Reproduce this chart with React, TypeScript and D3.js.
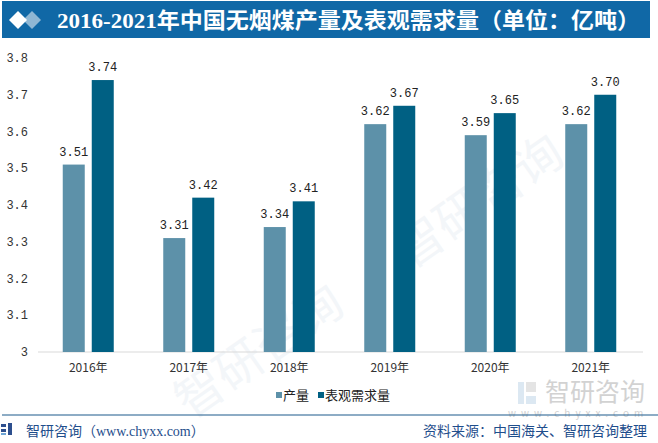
import React from "react";
import * as d3 from "d3";

const categories = ["2016年", "2017年", "2018年", "2019年", "2020年", "2021年"];
const production = [3.51, 3.31, 3.34, 3.62, 3.59, 3.62];
const demand = [3.74, 3.42, 3.41, 3.67, 3.65, 3.7];
const yTicks = [3, 3.1, 3.2, 3.3, 3.4, 3.5, 3.6, 3.7, 3.8];
const seriesNames = ["产量", "表观需求量"];
const colors = ["#5d91a9", "#006083"];

const W = 658;
const H = 443;

export default function App() {
  const x = d3.scaleBand<string>().domain(categories).range([38, 641]);
  const y = d3.scaleLinear().domain([3, 3.8]).range([352, 58]);
  const barW = 22;
  const gap = 7;
  const series = [production, demand];
  const fmtTick = (v: number) => (v === 3 ? "3" : v.toFixed(1));

  return (
    <svg width={W} height={H} style={{ position: "absolute", left: 0, top: 0, background: "#fff" }}>
      <rect x={0} y={0} width={W} height={H} fill="#fff" />
      {/* watermarks */}
      <g fill="#f3f6f9" fontFamily="Noto Sans CJK SC" fontSize={48}>
        <text transform="translate(190,420) rotate(-35)">智研咨询</text>
        <text transform="translate(410,270) rotate(-35)">智研咨询</text>
      </g>
      <g fontFamily="Noto Sans CJK SC">
        <rect x={518} y={382} width={6} height={22} fill="#dce8f2" />
        <rect x={526} y={382} width={10} height={10} fill="#e4e4e4" />
        <rect x={526} y={396} width={10} height={8} fill="#dce8f2" />
        <text x={545} y={401} fontSize={25} fill="#d2d2d2">智研咨询</text>
        <text x={508} y={417} fontSize={10} letterSpacing={5} fill="#d2d2d2">www.chyxx.com</text>
      </g>
      {/* title bar */}
      <rect x={2} y={1} width={648} height={37} fill="#1068a6" />
      <path d="M32,11 L41,20 L32,29 L23,20 Z" fill="#8fb7d4" />
      <path d="M18,11 L27,20 L18,29 L9,20 Z" fill="#ffffff" />
      <text
        x={57}
        y={28}
        fill="#fff"
        fontSize={22}
        fontWeight="bold"
        fontFamily="'Liberation Serif', 'Noto Sans CJK SC', serif"
        textLength={583}
        lengthAdjust="spacingAndGlyphs"
      >
        2016-2021年中国无烟煤产量及表观需求量（单位：亿吨）
      </text>
      {/* y tick labels */}
      {yTicks.map((t) => (
        <text
          key={t}
          x={28}
          y={y(t)}
          dy="0.35em"
          textAnchor="end"
          fontSize={12}
          fontFamily="'Liberation Mono', monospace"
          fill="#333"
        >
          {fmtTick(t)}
        </text>
      ))}
      {/* axis line */}
      <line x1={38} x2={643} y1={352} y2={352} stroke="#d9d9d9" strokeWidth={1} />
      {/* bars */}
      {categories.map((c, i) => {
        const cx = (x(c) as number) + x.bandwidth() / 2;
        return (
          <g key={c}>
            {series.map((s, j) => {
              const bx = j === 0 ? cx - gap / 2 - barW : cx + gap / 2;
              const top = y(s[i]);
              return (
                <g key={j}>
                  <rect x={bx} y={top} width={barW} height={352 - top} fill={colors[j]} />
                  <text
                    x={bx + barW / 2}
                    y={top - 9}
                    textAnchor="middle"
                    fontSize={12}
                    fontFamily="'Liberation Mono', monospace"
                    fill="#222"
                  >
                    {s[i].toFixed(2)}
                  </text>
                </g>
              );
            })}
            <text
              x={cx}
              y={368}
              dy="0.35em"
              textAnchor="middle"
              fontSize={12}
              fontFamily="'Noto Sans CJK SC', sans-serif"
              fill="#333"
            >
              {c}
            </text>
          </g>
        );
      })}
      {/* legend */}
      <g fontFamily="'Noto Sans CJK SC', sans-serif" fontSize={13} fill="#222">
        <rect x={276} y={392} width={6} height={6} fill={colors[0]} />
        <text x={283} y={395} dy="0.35em">{seriesNames[0]}</text>
        <rect x={318} y={392} width={6} height={6} fill={colors[1]} />
        <text x={325} y={395} dy="0.35em">{seriesNames[1]}</text>
      </g>
      {/* footer */}
      <line x1={2} x2={658} y1={415} y2={415} stroke="#1d5a8c" strokeWidth={1.2} />
      <g>
        <rect x={1} y={424} width={5} height={3} fill="#2d4f8e" />
        <rect x={1} y={429} width={5} height={3} fill="#2d4f8e" />
        <rect x={8} y={423} width={4} height={12} fill="#2d4f8e" />
        <rect x={1} y={433} width={5} height={2} fill="#6fa6d6" />
      </g>
      <text x={26} y={436} fontSize={14} fontFamily="'Noto Sans CJK SC', sans-serif" fill="#1f4e8c">
        智研咨询（<tspan fontFamily="'Liberation Serif', serif">www.chyxx.com</tspan>）
      </text>
      <text
        x={647}
        y={436}
        textAnchor="end"
        fontSize={14}
        fontFamily="'Noto Sans CJK SC', sans-serif"
        fill="#1f4e8c"
      >
        资料来源：中国海关、智研咨询整理
      </text>
    </svg>
  );
}
